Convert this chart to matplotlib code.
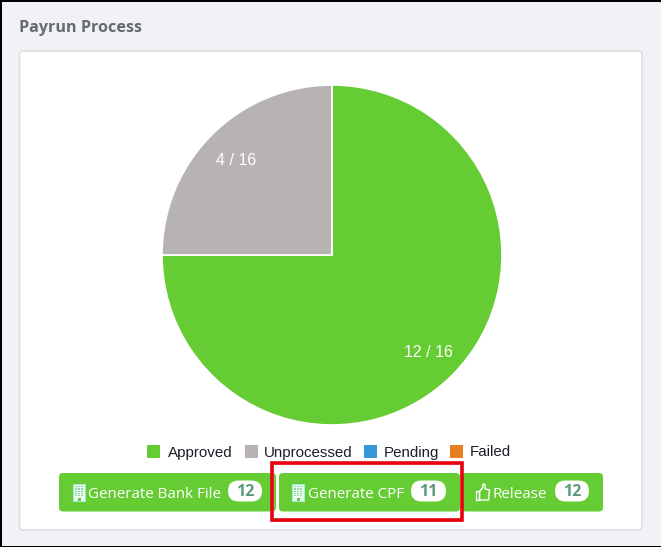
#!/usr/bin/env python3
"""Payrun Process panel: status pie with legend and action buttons."""
import matplotlib
matplotlib.use("Agg")
import matplotlib.pyplot as plt
from matplotlib.patches import FancyBboxPatch, Polygon, Rectangle

W, H = 661, 547

statuses = ["Approved", "Unprocessed", "Pending", "Failed"]
counts = [12, 4, 0, 0]
status_colors = ["#65cc34", "#b7b3b3", "#3498db", "#e67e22"]
button_labels = ["Generate Bank File", "Generate CPF", "Release"]
button_counts = [12, 11, 12]

GREEN = "#65cc34"
total = sum(counts)


def box(ax, x0, y0, x1, y1, r, **kw):
    ax.add_patch(FancyBboxPatch((x0 + r, y0 + r), x1 - x0 - 2 * r, y1 - y0 - 2 * r,
                                boxstyle=f"round,pad={r},rounding_size={r}", **kw))


def building_icon(ax, x, y):
    ax.add_patch(Rectangle((x, y), 12, 16.5, fc="#e8fbec", ec="#a5ecdc", lw=0.7, zorder=4))
    for i in range(3):
        for j in range(5):
            ax.add_patch(Rectangle((x + 2 + i * 3, y + 2 + j * 2.3), 2, 1.2, fc="#8fd8a6", lw=0, zorder=5))
    ax.add_patch(Rectangle((x + 4.5, y + 14), 3, 2.5, fc=GREEN, lw=0, zorder=5))


def thumb_icon(ax, x, y):
    ax.add_patch(Rectangle((x, y + 7), 3, 9, fc="none", ec="white", lw=1.0, zorder=4))
    pts = [(x + 3.5, y + 7.5), (x + 6.5, y + 4), (x + 7, y), (x + 9, y + 0.5), (x + 9, y + 5),
           (x + 13.5, y + 6), (x + 12.5, y + 16), (x + 3.5, y + 16)]
    ax.add_patch(Polygon(pts, closed=True, fc="none", ec="white", lw=1.0, zorder=4))


fig = plt.figure(figsize=(W / 100, H / 100), dpi=100, facecolor="#f0f2f6")
ax = fig.add_axes([0, 0, 1, 1])
ax.set_xlim(0, W)
ax.set_ylim(H, 0)
ax.axis("off")

# screenshot edge
ax.add_patch(Rectangle((0, 0), 1.5, H, fc="black", lw=0))
ax.add_patch(Rectangle((0, 0), W, 1.5, fc="black", lw=0))
ax.add_patch(Rectangle((0, H - 1.5), W, 1.5, fc="black", lw=0))

ax.text(19, 27.5, "Payrun Process", family="Open Sans", weight="bold", fontsize=11.6,
        color="#676a72", va="center", ha="left")
box(ax, 19.5, 51, 642, 530, 4, fc="white", ec="#dedfe2", lw=1.2, zorder=1)

# pie, centre (332, 255), radius 170 px
pie_size = 170 * 2.5
pie_ax = fig.add_axes([(332 - pie_size / 2) / W, 1 - (255 + pie_size / 2) / H, pie_size / W, pie_size / H])
pie_ax.patch.set_alpha(0)
wedges, _, autotexts = pie_ax.pie(
    counts, colors=status_colors, startangle=90, counterclock=False,
    wedgeprops={"edgecolor": "white", "linewidth": 1.2},
    autopct=lambda p: f"{round(p * total / 100)} / {total}" if p > 0 else "",
    pctdistance=0.8)
for t in autotexts:
    t.set(color="white", family="Liberation Sans", fontsize=11.5)
    x, y = t.get_position()
    t.set_position((x, y - 0.01))

# legend
legend_x = [147, 245, 364, 450]
legend_text_x = [168, 264, 384, 470]
for x, tx, name, color in zip(legend_x, legend_text_x, statuses, status_colors):
    ax.add_patch(Rectangle((x, 445), 13, 13, fc=color, lw=0, zorder=2))
    ax.text(tx, 452.5, name, family="Liberation Sans", fontsize=10.9, color="#1c1c2a",
            va="center", ha="left", zorder=2)

# buttons: x0, x1, text x, badge x0, badge x1
button_x = [(59, 276), (279, 460), (462, 603)]
text_x = [88, 308, 493]
badge_x = [(228, 262), (411, 446), (555, 589)]
for i, (label, n) in enumerate(zip(button_labels, button_counts)):
    box(ax, button_x[i][0], 473, button_x[i][1], 511.5, 4, fc=GREEN, lw=0, zorder=2)
    ax.text(text_x[i], 494.5, label, family="Open Sans", fontsize=10.9, color="white",
            va="center", ha="left", zorder=4)
    box(ax, badge_x[i][0], 480.5, badge_x[i][1], 501.5, 10.5, fc="white", lw=0, zorder=3)
    ax.text(sum(badge_x[i]) / 2, 491.5, str(n), family="Open Sans", weight="bold", fontsize=11.5,
            color="#5c9a7c", va="center", ha="center", zorder=4)
building_icon(ax, 73, 484)
building_icon(ax, 292, 484)
thumb_icon(ax, 476, 484)

# highlight around second button
ax.add_patch(Rectangle((273, 463.5), 189, 57, fc="none", ec="#cccccc", lw=1.5, zorder=5))
ax.add_patch(Rectangle((272, 462.5), 189.5, 57, fc="none", ec="#e8000f", lw=2.6, zorder=6))

fig.savefig("out.png", dpi=100, facecolor=fig.get_facecolor())
